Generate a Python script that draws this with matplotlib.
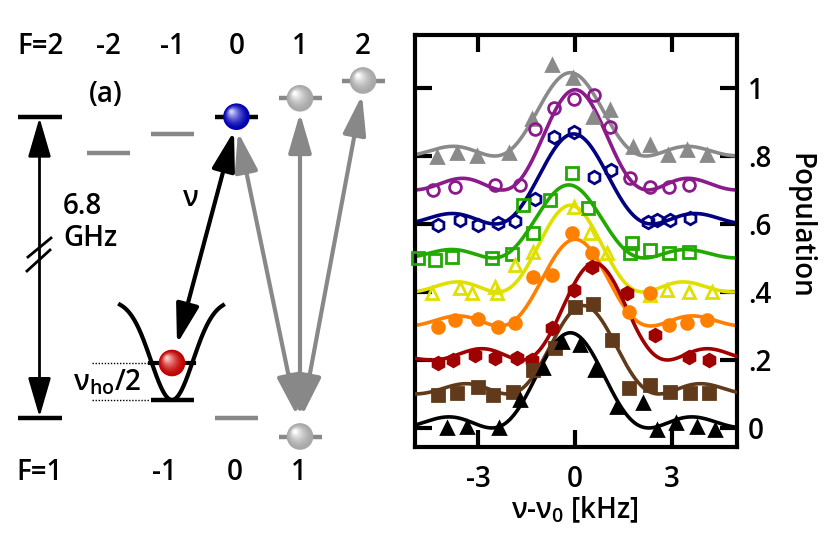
import numpy as np
import matplotlib
matplotlib.use("Agg")
import matplotlib.pyplot as plt
from matplotlib.patches import Circle
from matplotlib.colors import to_rgb

plt.rcParams['font.family'] = ['Open Sans', 'DejaVu Sans']
plt.rcParams['font.weight'] = 'semibold'
plt.rcParams['mathtext.fontset'] = 'custom'
plt.rcParams['mathtext.rm'] = 'Open Sans:semibold'
plt.rcParams['mathtext.it'] = 'Open Sans:semibold'
plt.rcParams['mathtext.bf'] = 'Open Sans:bold'

# ---- panel (b) data: detuning [kHz] and population (offset traces) ----
gray_x = [-4.28, -3.66, -3.04, -2.06, -1.34, -0.72, -0.06, 0.55, 1.08, 1.80, 2.32, 2.88, 3.46, 4.08]
gray_y = [0.798, 0.808, 0.800, 0.808, 0.910, 1.068, 1.030, 0.916, 0.935, 0.827, 0.832, 0.803, 0.818, 0.803]

purple_x = [-4.39, -3.72, -2.48, -1.70, -1.24, -0.67, -0.05, 0.57, 1.08, 1.70, 2.32, 2.89, 3.51]
purple_y = [0.700, 0.710, 0.715, 0.715, 0.880, 0.940, 0.967, 0.980, 0.884, 0.734, 0.710, 0.710, 0.715]

blue_x = [-4.23, -3.56, -2.99, -2.40, -1.86, -1.24, -0.67, -0.05, 0.57, 1.11, 2.24, 2.53, 2.94, 3.56]
blue_y = [0.597, 0.612, 0.597, 0.602, 0.609, 0.675, 0.857, 0.871, 0.739, 0.759, 0.607, 0.612, 0.612, 0.617]

green_x = [-4.86, -4.33, -3.82, -2.58, -1.96, -1.60, -1.29, -0.77, -0.10, 0.41, 1.75, 1.70, 2.30, 2.89, 3.51]
green_y = [0.500, 0.494, 0.502, 0.499, 0.512, 0.656, 0.574, 0.671, 0.749, 0.646, 0.545, 0.514, 0.524, 0.514, 0.519]

yellow_x = [-4.44, -3.56, -3.20, -2.42, -2.48, -1.86, -1.29, -0.05, 0.46, 0.98, 2.32, 2.84, 3.51, 4.23]
yellow_y = [0.398, 0.411, 0.396, 0.396, 0.416, 0.479, 0.519, 0.651, 0.573, 0.514, 0.391, 0.406, 0.401, 0.401]

orange_x = [-4.23, -3.72, -2.99, -2.40, -1.86, -1.29, -0.72, -0.10, 0.52, 1.65, 2.32, 2.89, 3.46, 4.08]
orange_y = [0.296, 0.318, 0.320, 0.296, 0.308, 0.445, 0.450, 0.573, 0.514, 0.342, 0.396, 0.303, 0.308, 0.318]

red_x = [-4.23, -3.77, -3.10, -2.48, -1.81, -1.34, -0.72, -0.05, 0.52, 1.60, 2.48, 3.51, 4.13]
red_y = [0.190, 0.200, 0.215, 0.205, 0.205, 0.200, 0.293, 0.406, 0.474, 0.396, 0.274, 0.210, 0.200]

brown_x = [-4.23, -3.66, -2.99, -2.53, -1.91, -1.29, -0.62, 0.00, 0.55, 1.14, 1.65, 2.32, 2.94, 3.56, 4.13]
brown_y = [0.097, 0.102, 0.121, 0.097, 0.107, 0.171, 0.234, 0.357, 0.364, 0.259, 0.117, 0.126, 0.107, 0.102, 0.102]

black_x = [-3.97, -3.35, -2.34, -1.70, -0.98, -0.41, 0.15, 0.62, 1.29, 2.11, 2.53, 3.10, 3.77, 4.33]
black_y = [0.000, 0.004, 0.000, 0.082, 0.176, 0.254, 0.244, 0.171, 0.063, 0.072, -0.006, 0.014, 0.004, -0.006]

# fit curves (Rabi lineshape): baseline, amplitude, centre [kHz], Rabi frequency [kHz]
fit_base = [0.80, 0.70, 0.60, 0.50, 0.40, 0.30, 0.20, 0.10, 0.00]
fit_amp = [0.245, 0.295, 0.265, 0.215, 0.255, 0.255, 0.285, 0.260, 0.280]
fit_center = [-0.15, 0.00, -0.05, -0.20, -0.15, 0.00, 0.60, 0.25, -0.15]
fit_rabi = [1.35, 1.30, 1.40, 1.35, 1.30, 1.35, 1.30, 1.35, 1.40]

series_x = [gray_x, purple_x, blue_x, green_x, yellow_x, orange_x, red_x, brown_x, black_x]
series_y = [gray_y, purple_y, blue_y, green_y, yellow_y, orange_y, red_y, brown_y, black_y]
colors = ['#8a8a8a', '#8b1a8b', '#000080', '#22aa00', '#e0e000', '#ff8000', '#a00000', '#603a1a', '#000000']
markers = ['^', 'o', 'h', 's', '^', 'o', 'h', 's', '^']
msizes = [9, 8.5, 9, 8, 9, 8.5, 9, 8, 8.5]
filled = [True, False, False, False, False, True, True, True, True]

x_ticks = [-3, 0, 3]
y_ticks = [0, 0.2, 0.4, 0.6, 0.8, 1.0]
y_ticklabels = ['0', '.2', '.4', '.6', '.8', '1']

# ---- panel (a) schematic (pixel coordinates of the figure) ----
col_x = [108, 172, 236.5, 300, 363]          # m_F = -2..2
f2_labels = ['-2', '-1', '0', '1', '2']
f2_level_y = [152.7, 134.3, 116.7, 98.3, 80.5]
f2_level_col = ['#888888', '#888888', 'k', '#888888', '#888888']
f1_label_x = [164, 235, 299]
f1_labels = ['-1', '0', '1']
f1_level_y = [400, 418, 436.5]
f1_level_col = ['k', '#888888', '#888888']

fig = plt.figure(figsize=(8.3, 5.36), dpi=100)

ax_a = fig.add_axes([0, 0, 1, 1])
ax_a.set_xlim(0, 830)
ax_a.set_ylim(536, 0)
ax_a.axis('off')


def ball(ax, x, y, r, dark, light):
    d = np.array(to_rgb(dark))
    l = np.array(to_rgb(light))
    n = 14
    for k in range(n):
        f = k / (n - 1)
        rr = r * (1 - 0.88 * f)
        ax.add_patch(Circle((x - 0.38 * r * f, y - 0.38 * r * f), rr,
                            color=d + (l - d) * f ** 1.6, zorder=6, lw=0))


fs = 20
ax_a.text(41, 46, 'F=2', fontsize=fs, ha='center', va='center')
for xx, lab in zip(col_x, f2_labels):
    ax_a.text(xx, 46, lab, fontsize=fs, ha='center', va='center')
ax_a.text(39, 472, 'F=1', fontsize=fs, ha='center', va='center')
for xx, lab in zip(f1_label_x, f1_labels):
    ax_a.text(xx, 472, lab, fontsize=fs, ha='center', va='center')
ax_a.text(106, 94, '(a)', fontsize=fs, ha='center', va='center')

# levels
for xx, yy, c in zip(col_x, f2_level_y, f2_level_col):
    ax_a.plot([xx - 21.5, xx + 21.5], [yy, yy], color=c, lw=3.2, solid_capstyle='butt', zorder=3)
for xx, yy, c in zip(col_x[1:4], f1_level_y, f1_level_col):
    ax_a.plot([xx - 21.5, xx + 21.5], [yy, yy], color=c, lw=3.2, solid_capstyle='butt', zorder=3)
ax_a.plot([18, 62], [f2_level_y[2], f2_level_y[2]], color='k', lw=3.2, solid_capstyle='butt')
ax_a.plot([18, 62], [f1_level_y[1], f1_level_y[1]], color='k', lw=3.2, solid_capstyle='butt')

# 6.8 GHz arrow with break mark
head = '<|-|>,head_length=1.1,head_width=0.32'
ax_a.annotate('', xy=(39.5, f2_level_y[2] + 1), xytext=(39.5, f1_level_y[1] - 1),
              arrowprops=dict(arrowstyle=head, lw=2,
                              color='k', shrinkA=0, shrinkB=0, mutation_scale=22))
ax_a.plot([28, 51], [257, 238], color='k', lw=2)
ax_a.plot([27, 50], [271, 250], color='k', lw=2)
ax_a.text(63, 206, '6.8', fontsize=fs, ha='left', va='center')
ax_a.text(63, 239, 'GHz', fontsize=fs, ha='left', va='center')

# trap potential
tx = np.linspace(120, 223, 200)
ax_a.plot(tx, 300 + 100 * np.exp(-(tx - 172) ** 2 / (2 * 21 ** 2)), color='k', lw=3, zorder=4)
ax_a.plot([150, 194], [363, 363], color='k', lw=3, zorder=4)
ax_a.plot([92, 150], [363, 363], color='k', lw=1, ls=(0, (1, 1.2)))
ax_a.plot([92, 150], [400, 400], color='k', lw=1, ls=(0, (1, 1.2)))
ax_a.text(73, 390, 'ν$_{ho}$/2', fontsize=fs, ha='left', va='baseline')

# transitions
ax_a.annotate('', xy=(234, 131), xytext=(177, 344),
              arrowprops=dict(arrowstyle=head, lw=3,
                              color='k', shrinkA=0, shrinkB=0, mutation_scale=22), zorder=5)
ax_a.text(191, 198, 'ν', fontsize=fs, ha='center', va='center')
arrow_gray = dict(arrowstyle=head, lw=3,
                  color='#888888', shrinkA=0, shrinkB=0, mutation_scale=22)
ax_a.annotate('', xy=(238, 132), xytext=(297, 416), arrowprops=arrow_gray)
ax_a.annotate('', xy=(300, 113), xytext=(300, 416), arrowprops=arrow_gray)
ax_a.annotate('', xy=(362, 95), xytext=(302, 416), arrowprops=arrow_gray)

# atoms
ball(ax_a, col_x[2], f2_level_y[2], 13.3, '#0000b0', '#d0d0ff')
ball(ax_a, col_x[3], f2_level_y[3], 13.3, '#a8a8a8', '#ffffff')
ball(ax_a, col_x[4], f2_level_y[4], 13.3, '#a8a8a8', '#ffffff')
ball(ax_a, col_x[3], f1_level_y[2], 13.3, '#a8a8a8', '#ffffff')
ball(ax_a, 172, 363, 13.3, '#c00000', '#ffc8c8')

# ---- panel (b) ----
ax = fig.add_axes([415 / 830, 89 / 536, 322 / 830, 412 / 536])
d = np.linspace(-5.2, 5.2, 500)
for i in range(len(series_x)):
    s = np.sqrt(1 + ((d - fit_center[i]) / fit_rabi[i]) ** 2)
    curve = fit_base[i] + fit_amp[i] * np.sin(np.pi / 2 * s) ** 2 / s ** 2
    ax.plot(d, curve, color=colors[i], lw=2.6, zorder=2 + i * 0.1)
for i in range(len(series_x)):
    ax.plot(series_x[i], series_y[i], ls='none', marker=markers[i], ms=msizes[i],
            mfc=colors[i] if filled[i] else 'none', mec=colors[i], mew=2, zorder=5,
            clip_on=False)

ax.set_xlim(-4.95, 5.0)
ax.set_ylim(-0.056, 1.156)
ax.set_xticks(x_ticks)
ax.set_xticklabels([str(t) for t in x_ticks])
ax.set_yticks(y_ticks)
ax.set_yticklabels(y_ticklabels)
ax.tick_params(direction='in', length=12, width=3, top=True, right=True, left=True,
               labelleft=False, labelright=True, labelsize=fs, pad=8)
ax.tick_params(axis='x', pad=13)
for sp in ax.spines.values():
    sp.set_linewidth(3)
ax_a.text(477, 95, '(b)', fontsize=fs, ha='center', va='center', zorder=10)
ax_a.text(575, 510, 'ν-ν$_0$ [kHz]', fontsize=fs, ha='center', va='center')
ax_a.text(800, 226, 'Population', fontsize=fs, ha='center', va='center', rotation=-90)

fig.savefig('out.png', dpi=100)
